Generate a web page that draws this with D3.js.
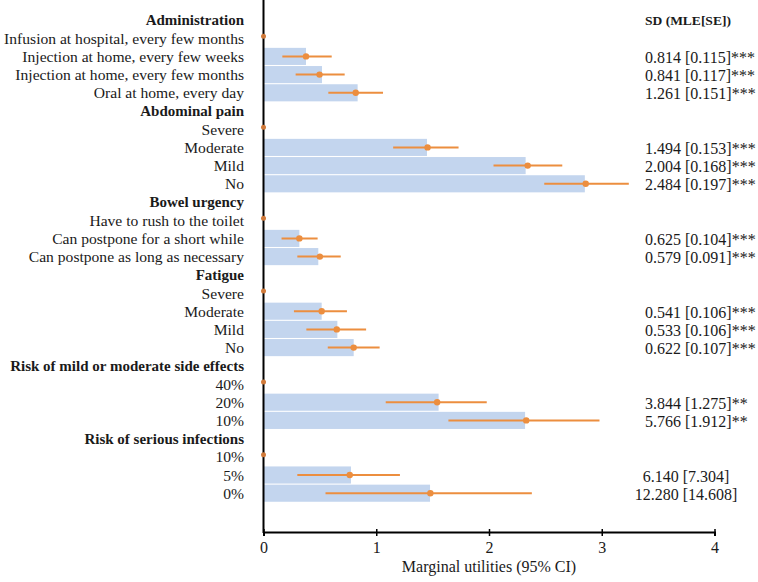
<!DOCTYPE html>
<html><head><meta charset="utf-8">
<script src="https://cdn.jsdelivr.net/npm/d3@7"></script>
<style>body{margin:0;background:#fff}svg{display:block}text{font-family:"Liberation Serif",serif;fill:#1a1a1a}</style>
</head><body>
<svg id="c" width="758" height="582"></svg>
<script>
const labels = ["Administration","Infusion at hospital, every few months","Injection at home, every few weeks","Injection at home, every few months","Oral at home, every day",
"Abdominal pain","Severe","Moderate","Mild","No",
"Bowel urgency","Have to rush to the toilet","Can postpone for a short while","Can postpone as long as necessary",
"Fatigue","Severe","Moderate","Mild","No",
"Risk of mild or moderate side effects","40%","20%","10%",
"Risk of serious infections","10%","5%","0%"];
const isHeader = [1,0,0,0,0, 1,0,0,0,0, 1,0,0,0, 1,0,0,0,0, 1,0,0,0, 1,0,0,0];
const barValues = [null,0,0.377,0.519,0.835, null,0,1.45,2.325,2.85, null,0,0.318,0.486, null,0,0.516,0.655,0.80, null,0,1.553,2.32, null,0,0.776,1.477];
const pointValues = [null,0,0.377,0.497,0.818, null,0,1.455,2.343,2.858, null,0,0.318,0.50, null,0,0.516,0.65,0.80, null,0,1.54,2.33, null,0,0.765,1.48];
const ciLow = [null,null,0.167,0.285,0.575, null,null,1.15,2.04,2.49, null,null,0.16,0.30, null,null,0.27,0.38,0.57, null,null,1.084,1.64, null,null,0.30,0.55];
const ciHigh = [null,null,0.605,0.72,1.06, null,null,1.73,2.65,3.24, null,null,0.48,0.685, null,null,0.74,0.91,1.03, null,null,1.98,2.98, null,null,1.21,2.38];
const sdTexts = ["","","0.814 [0.115]***","0.841 [0.117]***","1.261 [0.151]***",
"","","1.494 [0.153]***","2.004 [0.168]***","2.484 [0.197]***",
"","","0.625 [0.104]***","0.579 [0.091]***",
"","","0.541 [0.106]***","0.533 [0.106]***","0.622 [0.107]***",
"","","3.844 [1.275]**","5.766 [1.912]**",
"","","6.140 [7.304]","12.280 [14.608]"];
const sdHeader = "SD (MLE[SE])";
const xTicks = [0,1,2,3,4];
const xTitle = "Marginal utilities (95% CI)";

const svg = d3.select("#c");
const rows = labels.map((l,i)=>({i,l,h:isHeader[i],b:barValues[i],p:pointValues[i],lo:ciLow[i],hi:ciHigh[i],sd:sdTexts[i]}));
const x = d3.scaleLinear().domain([0,4]).range([263.5,714.5]);
const y = d3.scaleBand().domain(rows.map(r=>r.i)).range([10.9,502.3]).paddingInner(0.06).paddingOuter(0.03);
const axisY = 532;
const blue = "#c3d5ee", orange = "#ec8e3f";
const cy = r => y(r.i)+y.bandwidth()/2;

// bars
svg.append("g").selectAll("rect").data(rows.filter(r=>r.b!=null && r.b>0)).join("rect")
  .attr("x", x(0)).attr("y", r=>y(r.i)).attr("width", r=>x(r.b)-x(0)).attr("height", y.bandwidth())
  .attr("fill", blue);

// axes
const xa = svg.append("g").attr("transform",`translate(0,${axisY})`)
  .call(d3.axisBottom(x).tickValues(xTicks).tickFormat(d3.format("d")).tickSize(4).tickPadding(6));
xa.select(".domain").attr("stroke","#000").attr("stroke-width",2);
xa.selectAll(".tick line").attr("stroke","#000").attr("stroke-width",1.5).attr("y1",-3);
xa.selectAll(".tick text").attr("font-size",16).attr("fill","#1a1a1a").style("font-family","Liberation Serif, serif");
svg.append("line").attr("x1",x(0)).attr("x2",x(0)).attr("y1",0).attr("y2",axisY+1).attr("stroke","#000").attr("stroke-width",2);

// error bars
svg.append("g").selectAll("line").data(rows.filter(r=>r.lo!=null)).join("line")
  .attr("x1",r=>x(r.lo)).attr("x2",r=>x(r.hi)).attr("y1",cy).attr("y2",cy)
  .attr("stroke",orange).attr("stroke-width",2);
svg.append("g").selectAll("circle").data(rows.filter(r=>r.p!=null)).join("circle")
  .attr("cx",r=>x(r.p)).attr("cy",r=>cy(r) - (r.p===0?2:0)).attr("r",r=>r.p===0?2.5:3.2)
  .attr("fill",r=>r.p===0?"#d17a3a":orange);

// labels
svg.append("g").selectAll("text").data(rows).join("text")
  .attr("x",244).attr("y",cy).attr("text-anchor","end").attr("dominant-baseline","central")
  .attr("font-size",r=>r.h?15:15.6).attr("font-weight",r=>r.h?"bold":"normal").text(r=>r.l);

// SD column
svg.append("text").attr("x",645).attr("y",y(0)+y.bandwidth()/2).attr("dominant-baseline","central")
  .attr("font-size",13.5).attr("font-weight","bold").text(sdHeader);
svg.append("g").selectAll("text").data(rows.filter(r=>r.sd)).join("text")
  .attr("x",r=>r.sd.includes("*")?645:686).attr("text-anchor",r=>r.sd.includes("*")?"start":"middle")
  .attr("y",r=>cy(r)+1).attr("dominant-baseline","central")
  .attr("font-size",16).text(r=>r.sd);

svg.append("text").attr("x",(x(0)+x(4))/2).attr("y",566).attr("text-anchor","middle").attr("dominant-baseline","central")
  .attr("font-size",16).text(xTitle);
</script></body></html>
